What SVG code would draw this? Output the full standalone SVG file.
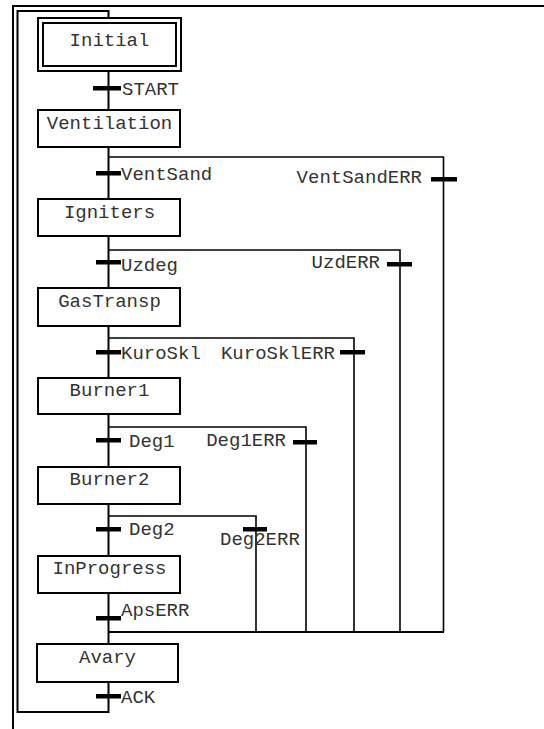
<svg xmlns="http://www.w3.org/2000/svg" width="544" height="729" viewBox="0 0 544 729" font-family="Liberation Mono, DejaVu Sans Mono, monospace" font-size="19">
<style>
.box{fill:#fff;stroke:#000;stroke-width:2}
.ln{fill:none;stroke:#000;stroke-width:2}
.tl{fill:none;stroke:#000;stroke-width:1.6}
.bar{fill:#000}
text{fill:#333}
.c{text-anchor:middle}
.e{text-anchor:end}
</style>
<rect width="544" height="729" fill="#fff"/>
<g id="frame"><path class="ln" d="M13,729 V6 H544"/></g>
<g id="connectors">
<path class="ln" d="M108.5,682 V712 H17.5 V11 H108.5 V18"/>
<path class="ln" d="M108.5,71 V110"/>
<path class="ln" d="M108.5,147 V199"/>
<path class="ln" d="M108.5,236 V288"/>
<path class="ln" d="M108.5,326 V378"/>
<path class="ln" d="M108.5,414 V467"/>
<path class="ln" d="M108.5,504 V556"/>
<path class="ln" d="M108.5,593 V644"/>
<path class="tl" d="M108.5,157 H443.5 V632"/>
<path class="tl" d="M108.5,250 H400 V632"/>
<path class="tl" d="M108.5,338 H354 V632"/>
<path class="tl" d="M108.5,427 H306 V632"/>
<path class="tl" d="M108.5,516 H256 V632"/>
<path class="ln" d="M108.5,632 H444"/>
</g>
<g id="transitions">
<rect class="bar" x="93" y="86" width="28" height="4.5"/>
<text x="122" y="95" font-family="Liberation Mono, monospace">START</text>
<rect class="bar" x="96" y="171" width="25" height="4.5"/>
<text x="121" y="180">VentSand</text>
<rect class="bar" x="431" y="177" width="26" height="4.5"/>
<text class="e" x="422" y="183">VentSandERR</text>
<rect class="bar" x="96" y="260" width="25" height="4.5"/>
<text x="121" y="271">Uzdeg</text>
<rect class="bar" x="387" y="262" width="25" height="4.5"/>
<text class="e" x="380" y="268">UzdERR</text>
<rect class="bar" x="96" y="350" width="25" height="4.5"/>
<text x="121" y="359">KuroSkl</text>
<rect class="bar" x="340" y="350" width="25" height="4.5"/>
<text class="e" x="335" y="359">KuroSklERR</text>
<rect class="bar" x="96" y="438" width="25" height="4.5"/>
<text x="129" y="447">Deg1</text>
<rect class="bar" x="293" y="440" width="24" height="4.5"/>
<text class="e" x="286" y="446">Deg1ERR</text>
<rect class="bar" x="96" y="527" width="25" height="4.5"/>
<text x="129" y="535">Deg2</text>
<rect class="bar" x="243" y="527" width="24" height="4.5"/>
<text x="220" y="545">Deg2ERR</text>
<rect class="bar" x="96" y="616" width="25" height="4.5"/>
<text x="121" y="616">ApsERR</text>
<rect class="bar" x="96" y="694" width="25" height="4.5"/>
<text x="121" y="703">ACK</text>
</g>
<g id="Initial">
<rect class="box" x="38" y="18" width="143" height="53"/>
<rect class="box" x="43" y="23" width="133" height="43"/>
<text class="c" x="109.5" y="46">Initial</text>
</g>
<g id="Ventilation">
<rect class="box" x="38" y="110" width="142" height="37"/>
<text class="c" x="109.5" y="129">Ventilation</text>
</g>
<g id="Igniters">
<rect class="box" x="38" y="199" width="142" height="37"/>
<text class="c" x="109.5" y="218">Igniters</text>
</g>
<g id="GasTransp">
<rect class="box" x="38" y="288" width="142" height="38"/>
<text class="c" x="109.5" y="307">GasTransp</text>
</g>
<g id="Burner1">
<rect class="box" x="38" y="378" width="142" height="36"/>
<text class="c" x="109.5" y="396">Burner1</text>
</g>
<g id="Burner2">
<rect class="box" x="38" y="467" width="142" height="37"/>
<text class="c" x="109.5" y="485">Burner2</text>
</g>
<g id="InProgress">
<rect class="box" x="38" y="556" width="142" height="37"/>
<text class="c" x="109.5" y="574">InProgress</text>
</g>
<g id="Avary">
<rect class="box" x="37" y="644" width="141" height="38"/>
<text class="c" x="107.5" y="663">Avary</text>
</g>
</svg>
